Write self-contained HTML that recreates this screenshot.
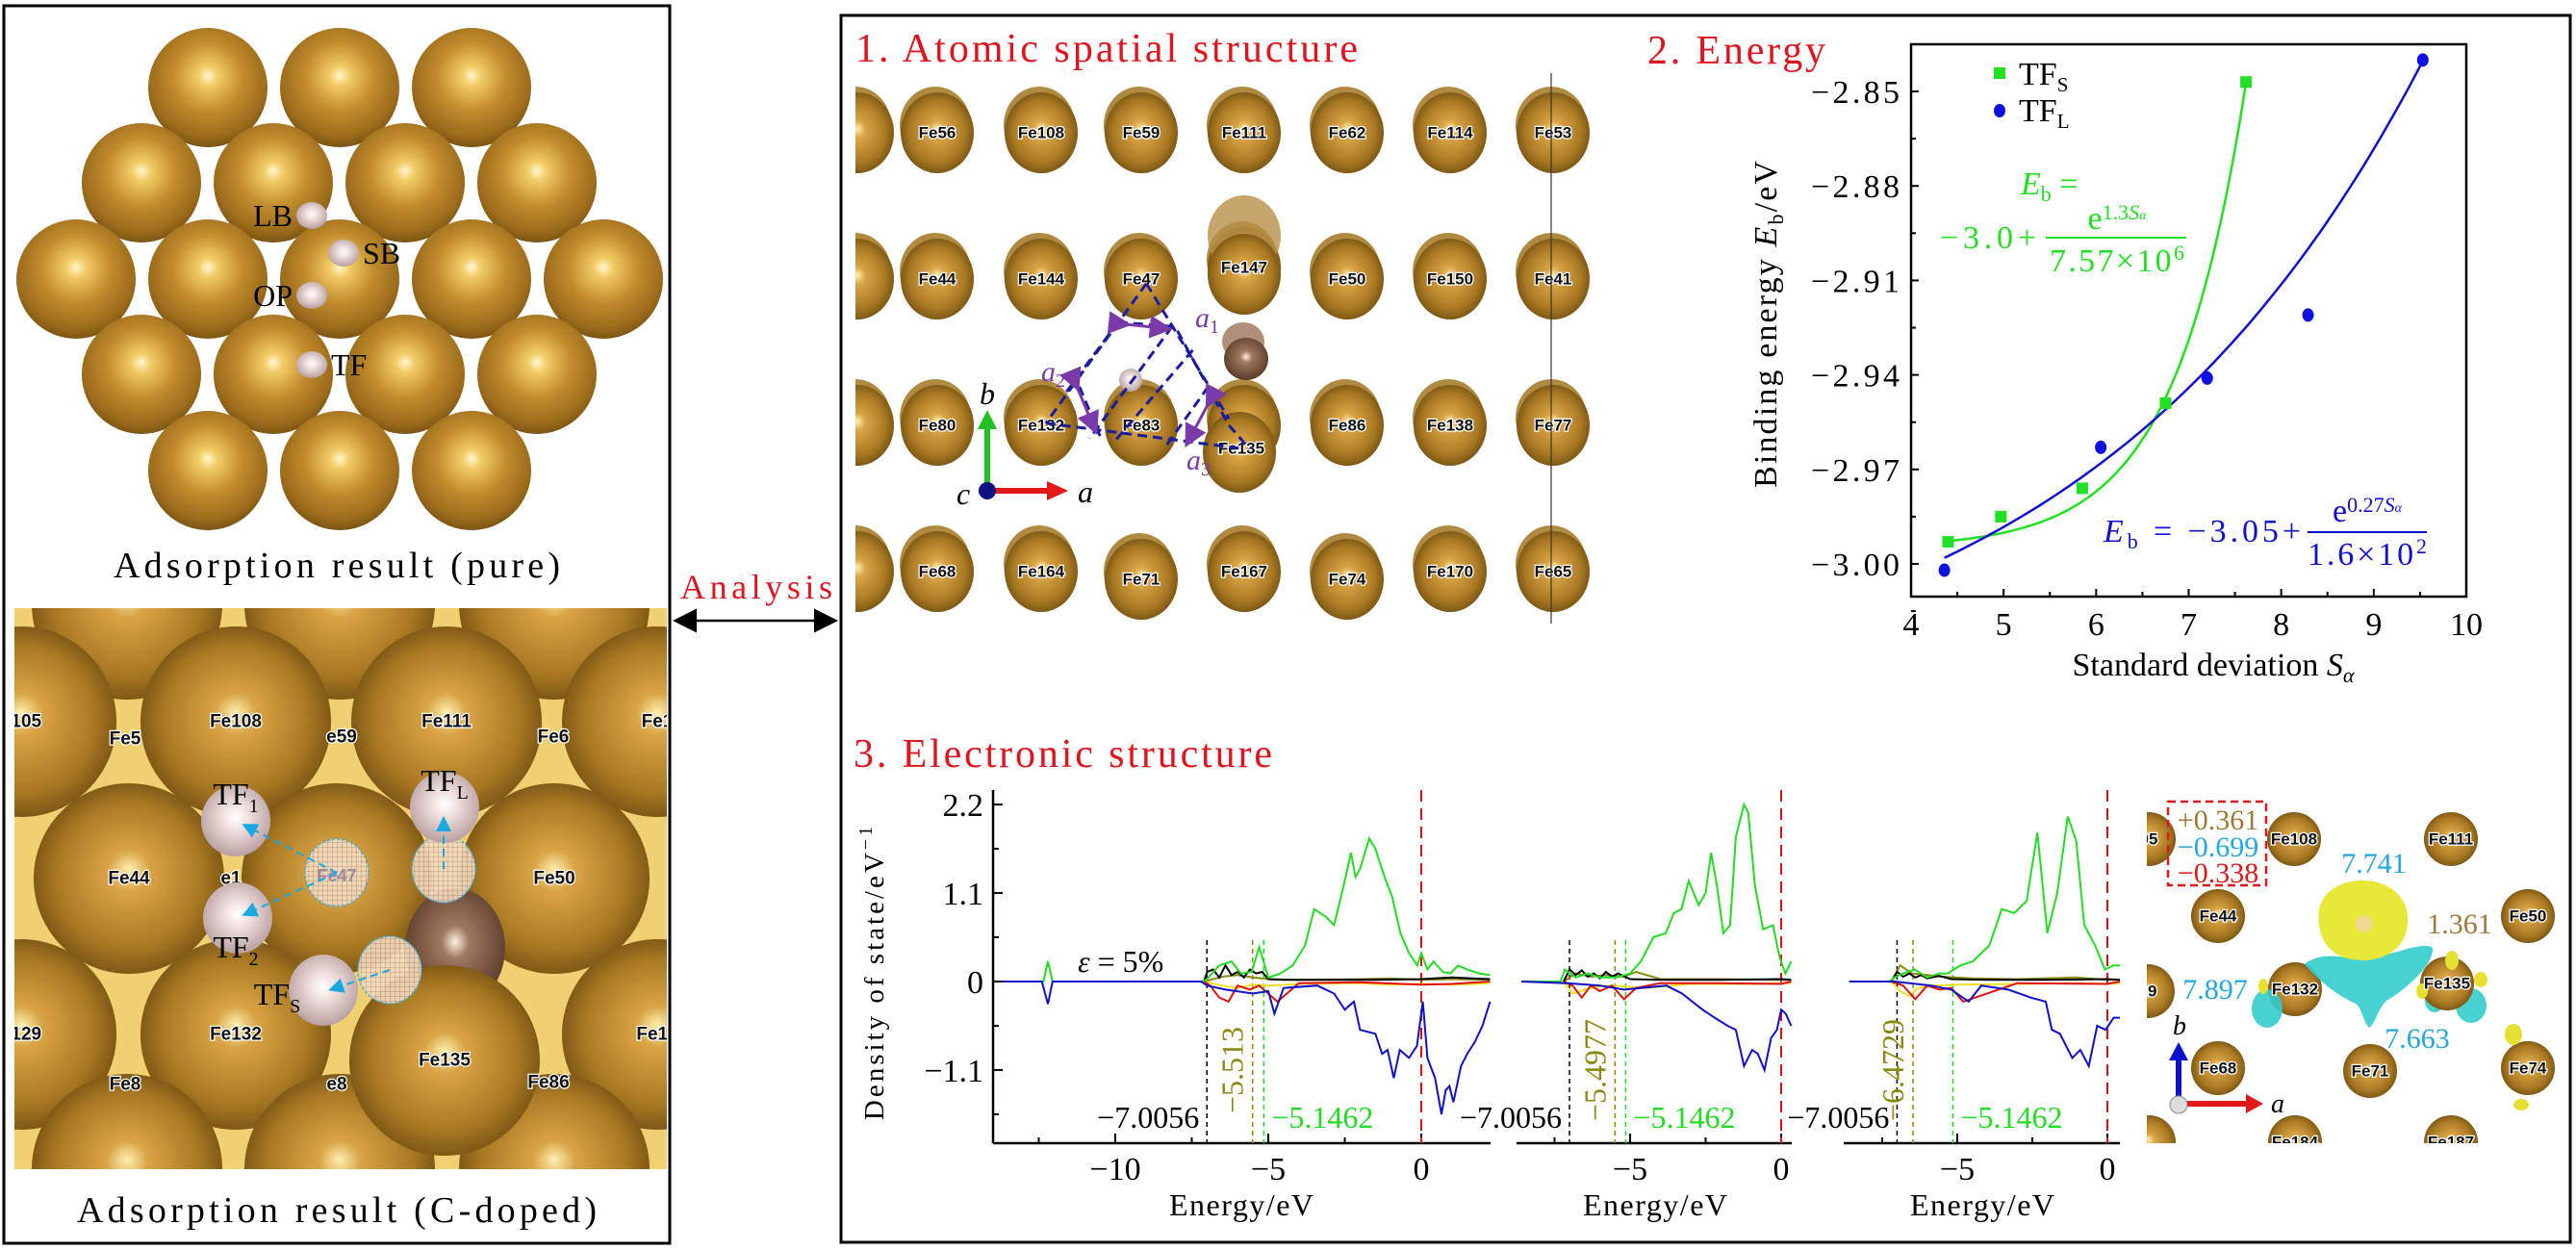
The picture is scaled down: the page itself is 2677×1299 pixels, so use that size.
<!DOCTYPE html>
<html><head><meta charset="utf-8">
<style>
html,body{margin:0;padding:0;background:#fff;}
svg{display:block;font-family:"Liberation Serif",serif;}
.lbl{font-family:"Liberation Sans",sans-serif;font-weight:bold;fill:#111;stroke:#fff;stroke-width:2.5px;paint-order:stroke;text-anchor:middle;dominant-baseline:central;}
</style></head>
<body>
<svg id="fig" width="2677" height="1299" viewBox="0 0 2677 1299" xmlns="http://www.w3.org/2000/svg">
<defs>
<radialGradient id="gold" cx="50%" cy="42%" r="58%" fx="50%" fy="40%">
<stop offset="0" stop-color="#fff8d0"/><stop offset="0.14" stop-color="#f2cc66"/><stop offset="0.5" stop-color="#c28c2c"/><stop offset="0.85" stop-color="#9c6c1c"/><stop offset="1" stop-color="#7c5412"/></radialGradient>
<radialGradient id="gold2" cx="50%" cy="50%" r="55%" fx="50%" fy="45%">
<stop offset="0" stop-color="#ffefb0"/><stop offset="0.2" stop-color="#d9a444"/><stop offset="0.7" stop-color="#a87822"/><stop offset="1" stop-color="#6e4c10"/></radialGradient>
<radialGradient id="pinkg" cx="50%" cy="45%" r="55%"><stop offset="0" stop-color="#ffffff"/><stop offset="0.3" stop-color="#f2e4e2"/><stop offset="1" stop-color="#b8a0a0"/></radialGradient>
<radialGradient id="brown" cx="50%" cy="45%" r="55%"><stop offset="0" stop-color="#fff0e0"/><stop offset="0.25" stop-color="#a07860"/><stop offset="1" stop-color="#5a3c28"/></radialGradient>
<pattern id="hatch" width="5" height="5" patternUnits="userSpaceOnUse"><rect width="5" height="5" fill="#f2dcc0"/><path d="M0 0H5M0 0V5" stroke="#b08068" stroke-width="0.8"/></pattern>
<clipPath id="clipPure"><rect x="8" y="12" width="686" height="540"/></clipPath>
<clipPath id="clipDoped"><rect x="15" y="632" width="678" height="583"/></clipPath>
<clipPath id="clipStruct"><rect x="889" y="70" width="780" height="590"/></clipPath>
<clipPath id="clipCharge"><rect x="2231" y="811" width="438" height="377"/></clipPath>
<marker id="cyanArr" markerWidth="8" markerHeight="8" refX="6" refY="4" orient="auto"><path d="M0,0 L8,4 L0,8 Z" fill="#1aa8e0"/></marker>
<marker id="purpArr" markerWidth="8" markerHeight="8" refX="6" refY="4" orient="auto"><path d="M0,0 L8,4 L0,8 Z" fill="#7a3aa8"/></marker>
<marker id="blkArr" markerWidth="10" markerHeight="10" refX="8" refY="5" orient="auto"><path d="M0,0 L10,5 L0,10 Z" fill="#000"/></marker>
<marker id="blkArrS" markerWidth="10" markerHeight="10" refX="2" refY="5" orient="auto"><path d="M10,0 L0,5 L10,10 Z" fill="#000"/></marker>
</defs>

<rect x="4" y="6" width="692" height="1286" fill="none" stroke="#000" stroke-width="3"/>
<rect x="874" y="16" width="1797" height="1275" fill="none" stroke="#000" stroke-width="3"/>

<g id="pure" clip-path="url(#clipPure)"></g>
<text x="350" y="600" font-size="38" text-anchor="middle" textLength="464">Adsorption result (pure)</text>
<rect x="15" y="632" width="678" height="583" fill="#f0d070"/>
<g id="doped" clip-path="url(#clipDoped)"></g>
<text x="350" y="1270" font-size="38" text-anchor="middle" textLength="540">Adsorption result (C-doped)</text>

<line x1="704" y1="645" x2="866" y2="645" stroke="#000" stroke-width="2.5" marker-end="url(#blkArr)" marker-start="url(#blkArrS)"/>
<text x="786" y="622" font-size="36" fill="#e0141e" text-anchor="middle" textLength="158">Analysis</text>

<text x="889" y="64" font-size="42" fill="#e0141e" textLength="522">1. Atomic spatial structure</text>
<text x="1712" y="66" font-size="42" fill="#e0141e" textLength="185">2. Energy</text>
<text x="887" y="797" font-size="42" fill="#e0141e" textLength="435">3. Electronic structure</text>

<g id="struct" clip-path="url(#clipStruct)"></g>
<g id="energy"></g>
<g id="dos"></g>
<g id="charge" clip-path="url(#clipCharge)"></g>
<g id="chargeTxt"></g>
</svg>

<script>
// ===== Energy chart data =====
const sdTFS = [4.40, 4.97, 5.85, 6.75, 7.62];
const ebTFS = [-2.993, -2.985, -2.976, -2.949, -2.847];
const sdTFL = [4.36, 6.05, 7.20, 8.29, 9.53];
const ebTFL = [-3.002, -2.963, -2.941, -2.921, -2.840];
const fitTFS = [-2.995, 7.38e-6, 1.3];
const fitTFL = [-3.05, 0.016, 0.27];
const energyXTicks = [4, 5, 6, 7, 8, 9, 10];
const energyYTicks = [-2.85, -2.88, -2.91, -2.94, -2.97, -3.00];

// ===== DOS data (three strain panels) =====
const dosYTicks = [2.2, 1.1, 0, -1.1];
const p1XTicks = [-10, -5, 0];
const p2XTicks = [-5, 0];
const p3XTicks = [-5, 0];
const p1GreenE = [-14, -12.5, -12.35, -12.2, -12.05, -7.2, -7.03, -6.6, -6.2, -5.9, -5.54, -5.3, -5.0, -4.6, -4.2, -3.8, -3.5, -3.1, -2.85, -2.5, -2.3, -2.15, -2.0, -1.7, -1.5, -1.2, -0.95, -0.68, -0.4, -0.13, 0, 0.2, 0.4, 0.7, 0.95, 1.2, 1.5, 1.9, 2.25];
const p1GreenV = [0, 0, 0, 0.25, 0, 0, 0.02, 0.2, 0.25, 0.1, 0.12, 0.43, 0.05, 0.1, 0.2, 0.45, 0.9, 0.8, 0.7, 1.25, 1.6, 1.3, 1.4, 1.78, 1.65, 1.3, 1.05, 0.6, 0.35, 0.2, 0.35, 0.15, 0.25, 0.12, 0.1, 0.2, 0.15, 0.1, 0.08];
const p1BlueE = [-14, -12.4, -12.2, -12.05, -7.2, -7.0, -6.4, -5.5, -5.0, -4.8, -4.5, -3.4, -2.85, -2.5, -2.2, -2.0, -1.5, -1.28, -1.1, -0.9, -0.7, -0.4, -0.14, 0.05, 0.2, 0.45, 0.66, 0.8, 0.92, 1.05, 1.3, 1.5, 1.75, 2.0, 2.25];
const p1BlueV = [0, 0, -0.28, 0, 0, -0.05, -0.1, -0.15, -0.12, -0.4, -0.08, -0.05, -0.15, -0.35, -0.25, -0.6, -0.65, -0.9, -0.85, -1.2, -0.85, -0.95, -0.8, -0.25, -0.95, -1.2, -1.65, -1.35, -1.3, -1.5, -1.05, -0.9, -0.75, -0.55, -0.25];
const p1BlackE = [-7.1, -7.0, -6.8, -6.6, -6.4, -6.2, -6.0, -5.8, -5.6, -5.4, -5.2, -5.0, -4.5, -3, -1.5, 0, 1, 2.25];
const p1BlackV = [0, 0.12, 0.15, 0.05, 0.2, 0.08, 0.12, 0.05, 0.15, 0.1, 0.12, 0.03, 0.02, 0.02, 0.02, 0.03, 0.05, 0.03];
const p1RedE = [-7.1, -6.9, -6.6, -6.3, -6.0, -5.6, -5.3, -5.0, -4.7, -4.0, -2, 0, 1, 2.25];
const p1RedV = [0, -0.05, -0.2, -0.25, -0.05, -0.1, -0.05, -0.15, -0.25, -0.02, -0.01, -0.04, -0.03, 0];
const p1OliveE = [-7.1, -6.5, -6.0, -5.5, -5.0, -4, -2, -1, 0, 1, 2.25];
const p1OliveV = [0, 0.06, 0.08, 0.05, 0.03, 0.02, 0.03, 0.04, 0.02, 0.03, 0.02];
const p1YellowE = [-7.1, -6.5, -6.0, -5.5, -5.0, -4, -2, -1, 0, 1, 2.25];
const p1YellowV = [0, -0.05, -0.08, -0.04, -0.05, -0.03, -0.02, -0.04, -0.03, -0.04, -0.02];

const p2GreenE = [-8.6, -7.3, -7.16, -6.8, -6.4, -6.0, -5.46, -5.0, -4.64, -4.23, -3.82, -3.55, -3.3, -3.06, -2.73, -2.5, -2.32, -2.13, -1.91, -1.69, -1.5, -1.23, -1.09, -0.87, -0.6, -0.27, -0.05, 0.14, 0.33];
const p2GreenV = [0, 0, 0.15, 0.05, 0.1, 0.05, 0.05, 0.1, 0.25, 0.55, 0.6, 0.85, 0.9, 1.25, 0.95, 1.1, 1.6, 1.2, 0.6, 0.7, 1.8, 2.2, 2.1, 1.2, 0.65, 0.7, 0.3, 0.1, 0.25];
const p2BlueE = [-8.6, -7.1, -6.0, -5.2, -3.8, -3.28, -2.6, -2.2, -1.77, -1.5, -1.23, -0.96, -0.77, -0.55, -0.33, -0.14, 0, 0.15, 0.33];
const p2BlueV = [0, -0.02, -0.05, -0.1, -0.05, -0.15, -0.35, -0.45, -0.55, -0.6, -1.05, -0.85, -0.9, -1.1, -0.7, -0.6, -0.35, -0.4, -0.55];
const p2BlackE = [-7.2, -7.0, -6.8, -6.6, -6.4, -6.2, -6.0, -5.8, -5.6, -5.4, -5.0, -4, -2, 0, 0.33];
const p2BlackV = [0, 0.15, 0.08, 0.14, 0.06, 0.1, 0.04, 0.12, 0.06, 0.1, 0.03, 0.02, 0.02, 0.03, 0.02];
const p2RedE = [-7.2, -6.9, -6.6, -6.3, -6.0, -5.6, -5.2, -4.8, -4.0, -2, 0, 0.33];
const p2RedV = [0, -0.05, -0.2, -0.05, -0.12, -0.05, -0.22, -0.08, -0.02, -0.02, -0.03, 0];
const p2OliveE = [-7.2, -6.8, -6.3, -5.8, -5.2, -4.8, -4, -2, 0, 0.33];
const p2OliveV = [0, 0.1, 0.06, 0.08, 0.06, 0.12, 0.03, 0.03, 0.02, 0.02];
const p2YellowE = [-7.2, -6.9, -6.5, -6.0, -5.5, -4.5, -3, -1, 0, 0.33];
const p2YellowV = [0, -0.15, -0.1, -0.06, -0.05, -0.08, -0.03, -0.03, -0.02, -0.02];

const p3GreenE = [-8.6, -7.25, -7.1, -6.8, -6.42, -6.0, -5.6, -5.31, -4.9, -4.48, -3.93, -3.52, -3.1, -2.69, -2.33, -2.0, -1.67, -1.32, -1.04, -0.77, -0.41, -0.08, 0.2, 0.42];
const p3GreenV = [0, 0, 0.05, 0.1, 0.15, 0.05, 0.1, 0.1, 0.2, 0.25, 0.45, 0.9, 0.85, 1.0, 1.85, 0.6, 1.1, 2.05, 1.75, 0.7, 0.45, 0.15, 0.2, 0.2];
const p3BlueE = [-8.6, -7.1, -5.86, -5.2, -4.62, -4.2, -3.3, -2.55, -2.05, -1.85, -1.58, -1.17, -0.9, -0.62, -0.34, -0.06, 0.21, 0.42];
const p3BlueV = [0, 0, -0.05, -0.1, -0.25, -0.05, -0.1, -0.2, -0.25, -0.6, -0.65, -0.95, -0.85, -1.05, -0.55, -0.6, -0.45, -0.45];
const p3BlackE = [-7.2, -7.0, -6.8, -6.6, -6.4, -6.2, -6.0, -5.6, -5.2, -4, -2, 0, 0.42];
const p3BlackV = [0, 0.12, 0.06, 0.1, 0.05, 0.08, 0.04, 0.07, 0.03, 0.02, 0.02, 0.03, 0.02];
const p3RedE = [-7.2, -6.8, -6.4, -6.0, -5.6, -5.2, -4.8, -3, 0, 0.42];
const p3RedV = [0, -0.05, -0.22, -0.05, -0.1, -0.08, -0.25, -0.02, -0.03, 0];
const p3OliveE = [-7.2, -6.9, -6.5, -6.0, -5.5, -4.5, -3, -1, 0, 0.42];
const p3OliveV = [0, 0.2, 0.1, 0.08, 0.06, 0.04, 0.03, 0.05, 0.02, 0.02];
const p3YellowE = [-7.2, -6.9, -6.6, -6.3, -5.8, -5, -3, -1, 0, 0.42];
const p3YellowV = [0, -0.12, -0.18, -0.08, -0.05, -0.04, -0.03, -0.02, -0.03, -0.02];
const dosMarkers1 = [-7.0056, -5.513, -5.1462];
const dosMarkers2 = [-7.0056, -5.4977, -5.1462];
const dosMarkers3 = [-7.0056, -6.4729, -5.1462];
const dosMarkerText1 = ["\u22127.0056", "\u22125.513", "\u22125.1462"];
const dosMarkerText2 = ["\u22127.0056", "\u22125.4977", "\u22125.1462"];
const dosMarkerText3 = ["\u22127.0056", "\u22126.4729", "\u22125.1462"];

const NS = "http://www.w3.org/2000/svg";
function mk(tag, a, parent) {
  const e = document.createElementNS(NS, tag);
  for (const k in a) e.setAttribute(k, a[k]);
  parent.appendChild(e);
  return e;
}
function fmt(v) { return (v < 0 ? "\u2212" : "") + Math.abs(v).toFixed(2); }

// ===== Pure image =====
(function () {
  const g = document.getElementById('pure');
  const rows = [[91, [216, 353, 490]], [190, [147, 284, 421, 558]], [290, [79, 216, 353, 490, 627]], [389, [147, 284, 421, 558]], [489, [216, 353, 490]]];
  rows.forEach(r => r[1].forEach(x => {
    const c = mk('ellipse', { cx: x, cy: r[0], rx: 62, ry: 62, fill: 'url(#gold)' }, g);
    
    
  }));
  const hs = [[324, 224, 'LB', 'end'], [357, 263, 'SB', 'start'], [324, 307, 'OP', 'end'], [324, 379, 'TF', 'start']];
  hs.forEach(h => {
    const c = mk('ellipse', { cx: h[0], cy: h[1], rx: 16, ry: 14, fill: 'url(#pinkg)' }, g);
    
    
    const t = mk('text', { x: h[3] === 'end' ? h[0] - 20 : h[0] + 20, y: h[1] + 11, 'font-size': 32, 'text-anchor': h[3] }, g);
    t.textContent = h[2];
    
    
  });
})();

// ===== Doped image =====
(function () {
  const g = document.getElementById('doped');
  const R = 99;
  const sph = [[132, 628, ''], [353, 628, ''], [576, 628, ''],
    [22, 750, 'e105'], [245, 750, 'Fe108'], [464, 750, 'Fe111'], [683, 750, 'Fe1'],
    [-85, 913, 'e14'], [134, 913, 'Fe44'], [350, 913, ''], [576, 913, 'Fe50'], [795, 913, 'e15'],
    [22, 1075, 'e129'], [245, 1075, 'Fe132'], [683, 1075, 'Fe13'],
    [132, 1215, ''], [353, 1215, ''], [576, 1215, '']];
  sph.forEach(s => {
    const c = mk('circle', { cx: s[0], cy: s[1], r: R, fill: 'url(#gold2)' }, g);
    
    
  });
  const bc = mk('ellipse', { cx: 473, cy: 985, rx: 52, ry: 62, fill: 'url(#brown)' }, g);
  
  
  const f135 = mk('circle', { cx: 462, cy: 1102, r: R, fill: 'url(#gold2)' }, g);
  
  
  const labs = sph.filter(s => s[2]).concat([[462, 1102, 'Fe135'], [130, 768, 'Fe5'], [355, 766, 'e59'], [575, 766, 'Fe6'], [130, 1127, 'Fe8'], [350, 1127, 'e8'], [570, 1125, 'Fe86'], [240, 913, 'e1']]);
  labs.forEach(s => {
    const t = mk('text', { x: s[0], y: s[1], class: 'lbl', 'font-size': 19 }, g);
    t.textContent = s[2];
    
    
  });
  [[350, 907], [461, 903], [405, 1008]].forEach(h => {
    const c = mk('ellipse', { cx: h[0], cy: h[1], rx: 33, ry: 35, fill: 'url(#hatch)', stroke: '#38b0e0', 'stroke-width': 1.5, 'stroke-dasharray': '3 2', opacity: 0.9 }, g);
    
    
  });
  const fe47 = mk('text', { x: 350, y: 910, 'font-size': 18, 'font-family': 'Liberation Sans', 'font-weight': 'bold', fill: '#9a8aa0', 'text-anchor': 'middle', 'dominant-baseline': 'central' }, g);
  fe47.textContent = 'Fe47';
  
  
  const hA = [[245, 853, 'TF', '1', 245, 836], [247, 954, 'TF', '2', 245, 995], [336, 1029, 'TF', 'S', 288, 1044], [462, 839, 'TF', 'L', 462, 822]];
  hA.forEach(h => {
    const c = mk('ellipse', { cx: h[0], cy: h[1], rx: 36, ry: 37, fill: 'url(#pinkg)' }, g);
    
    
  });
  [[350, 907, 255, 858], [350, 907, 255, 950], [405, 1008, 345, 1028], [461, 903, 461, 852]].forEach(a => {
    const l = mk('line', { x1: a[0], y1: a[1], x2: a[2], y2: a[3], stroke: '#1aa8e0', 'stroke-width': 2, 'stroke-dasharray': '8 5', 'marker-end': 'url(#cyanArr)' }, g);
    
    
  });
  hA.forEach(h => {
    const t = mk('text', { x: h[4], y: h[5], 'font-size': 32, 'text-anchor': 'middle' }, g);
    t.textContent = h[2];
    const s = mk('tspan', { 'font-size': 20, dy: 8 }, t);
    s.textContent = h[3];
    
    
  });
})();

// ===== Atomic spatial structure =====
(function () {
  const g = document.getElementById('struct');
  const cols = [891, 974, 1082, 1186, 1293, 1400, 1507, 1614];
  const rows = [138, 290, 442, 594];
  const names = [['', 'Fe56', 'Fe108', 'Fe59', 'Fe111', 'Fe62', 'Fe114', 'Fe53'],
    ['', 'Fe44', 'Fe144', 'Fe47', 'Fe147', 'Fe50', 'Fe150', 'Fe41'],
    ['', 'Fe80', 'Fe132', 'Fe83', '', 'Fe86', 'Fe138', 'Fe77'],
    ['', 'Fe68', 'Fe164', 'Fe71', 'Fe167', 'Fe74', 'Fe170', 'Fe65']];
  rows.forEach((y, ri) => cols.forEach((x, ci) => {
    let yy = y;
    if (ri === 3 && (ci === 3 || ci === 5)) yy = y + 8;
    if (ri === 1 && ci === 4) yy = y - 12;
    const gh = mk('ellipse', { cx: x - 2, cy: yy - 8, rx: 37, ry: 40, fill: '#b08a40' }, g);
    
    
    const c = mk('ellipse', { cx: x, cy: yy, rx: 38, ry: 42, fill: 'url(#gold2)' }, g);
    
    
    if (names[ri][ci]) {
      const t = mk('text', { x: x, y: yy, class: 'lbl', 'font-size': 17 }, g);
      t.textContent = names[ri][ci];
      
      
    }
  }));
  const gh2 = mk('ellipse', { cx: 1293, cy: 245, rx: 38, ry: 42, fill: '#b89048', opacity: 0.8 }, g);
  
  
  const f147 = mk('ellipse', { cx: 1293, cy: 285, rx: 38, ry: 42, fill: 'url(#gold2)' }, g);
  
  
  const t147 = mk('text', { x: 1293, y: 278, class: 'lbl', 'font-size': 17 }, g);
  t147.textContent = 'Fe147';
  
  
  const f135 = mk('ellipse', { cx: 1288, cy: 470, rx: 38, ry: 42, fill: 'url(#gold2)' }, g);
  
  
  const t135 = mk('text', { x: 1290, y: 466, class: 'lbl', 'font-size': 17 }, g);
  t135.textContent = 'Fe135';
  
  
  const cg = mk('ellipse', { cx: 1292, cy: 355, rx: 22, ry: 20, fill: '#b09078' }, g);
  
  
  const cc = mk('ellipse', { cx: 1295, cy: 373, rx: 23, ry: 22, fill: 'url(#brown)' }, g);
  
  
  const h = mk('circle', { cx: 1175, cy: 395, r: 12, fill: 'url(#pinkg)' }, g);
  
  
  const P = (x, y) => [870 + x / 1.867, y / 2.24];
  const dl = [[600, 660, 405, 985], [600, 660, 760, 975], [405, 985, 790, 1045], [545, 750, 440, 920], [650, 760, 490, 1020], [690, 815, 540, 1025],
    [720, 900, 640, 1035], [470, 900, 510, 1015], [660, 770, 760, 990], [760, 990, 800, 1045], [545, 750, 650, 760]];
  dl.forEach(d => {
    const a = P(d[0], d[1]), b = P(d[2], d[3]);
    const l = mk('line', { x1: a[0], y1: a[1], x2: b[0], y2: b[1], stroke: '#1c1ca0', 'stroke-width': 3, 'stroke-dasharray': '10 6' }, g);
    
    
  });
  [[[560, 755], [640, 765]], [[465, 900], [500, 1000]], [[720, 940], [680, 1030]]].forEach(ar => {
    const a = P(ar[0][0], ar[0][1]), b = P(ar[1][0], ar[1][1]);
    const l = mk('line', { x1: a[0], y1: a[1], x2: b[0], y2: b[1], stroke: '#7a3aa8', 'stroke-width': 3, 'marker-end': 'url(#purpArr)', 'marker-start': 'url(#purpArr)' }, g);
    
    
  });
  [['1', 1242, 340], ['2', 1082, 396], ['3', 1233, 488]].forEach(s => {
    const t = mk('text', { x: s[1], y: s[2], 'font-size': 30, 'font-style': 'italic', fill: '#7a3aa8' }, g);
    t.textContent = 'a';
    const sb = mk('tspan', { 'font-size': 20, dy: 6, 'font-style': 'normal' }, t);
    sb.textContent = s[0];
    
    
  });
  const vl = mk('line', { x1: 1612, y1: 76, x2: 1612, y2: 648, stroke: '#333', 'stroke-width': 1.2 }, g);
  
  
  const ay = mk('line', { x1: 1026, y1: 508, x2: 1026, y2: 440, stroke: '#22c022', 'stroke-width': 6 }, g);
  
  
  const ayh = mk('path', { d: 'M1016,446 L1026,426 L1036,446 Z', fill: '#22c022' }, g);
  
  
  const ax = mk('line', { x1: 1028, y1: 510, x2: 1092, y2: 510, stroke: '#e01818', 'stroke-width': 6 }, g);
  
  
  const axh = mk('path', { d: 'M1088,500 L1110,510 L1088,520 Z', fill: '#e01818' }, g);
  
  
  const ao = mk('circle', { cx: 1026, cy: 510, r: 9, fill: '#101080' }, g);
  
  
  [['b', 1018, 420], ['a', 1120, 522], ['c', 994, 524]].forEach(s => {
    const t = mk('text', { x: s[1], y: s[2], 'font-size': 32, 'font-style': 'italic' }, g);
    t.textContent = s[0];
    
    
  });
})();

// ===== Energy chart =====
(function () {
  const g = document.getElementById('energy');
  const X0 = 1986, X1 = 2563, Y0 = 46, Y1 = 620;
  const sx = v => X0 + (v - 4) * (X1 - X0) / 6;
  const sy = v => 586 - (v + 3.0) * 3273;
  const fr = mk('rect', { x: X0, y: Y0, width: X1 - X0, height: Y1 - Y0, fill: 'none', stroke: '#000', 'stroke-width': 2.5 }, g);
  
  
  energyXTicks.forEach((v, i) => {
    const tk = mk('line', { x1: sx(v), y1: Y1, x2: sx(v), y2: Y1 - 8, stroke: '#000', 'stroke-width': 2 }, g);
    
    
    if (i < energyXTicks.length - 1) {
      const m = mk('line', { x1: sx(v + 0.5), y1: Y1, x2: sx(v + 0.5), y2: Y1 - 5, stroke: '#000', 'stroke-width': 2 }, g);
      
      
    }
    const t = mk('text', { x: sx(v), y: 660, 'font-size': 34, 'text-anchor': 'middle' }, g);
    t.textContent = v;
    
    
  });
  energyYTicks.forEach(v => {
    const tk = mk('line', { x1: X0, y1: sy(v), x2: X0 + 8, y2: sy(v), stroke: '#000', 'stroke-width': 2 }, g);
    
    
    const m = mk('line', { x1: X0, y1: sy(v - 0.015), x2: X0 + 5, y2: sy(v - 0.015), stroke: '#000', 'stroke-width': 2 }, g);
    
    
    const t = mk('text', { x: 1882, y: sy(v) + 12, 'font-size': 34, textLength: 92 }, g);
    t.textContent = fmt(v);
    
    
  });
  const yt = mk('text', { x: 0, y: 0, 'font-size': 34, 'text-anchor': 'middle', textLength: 340, transform: 'translate(1846,337) rotate(-90)' }, g);
  yt.innerHTML = 'Binding energy <tspan font-style="italic">E</tspan><tspan font-size="22" dy="7">b</tspan><tspan dy="-7">/eV</tspan>';
  
  
  const xt = mk('text', { x: 2300, y: 702, 'font-size': 34, 'text-anchor': 'middle' }, g);
  xt.innerHTML = 'Standard deviation <tspan font-style="italic">S</tspan><tspan font-size="22" dy="7" font-style="italic">α</tspan>';
  
  
  function curve(p, a, b, col, name) {
    let d = '';
    for (let i = 0; i <= 80; i++) {
      const v = a + (b - a) * i / 80;
      const y = p[0] + p[1] * Math.exp(p[2] * v);
      d += (i ? 'L' : 'M') + sx(v).toFixed(1) + ',' + sy(y).toFixed(1);
    }
    const c = mk('path', { d: d, fill: 'none', stroke: col, 'stroke-width': 2.5 }, g);
    
    
  }
  curve(fitTFS, sdTFS[0], sdTFS[sdTFS.length - 1], '#22e022', 'fit-curve-tfs');
  curve(fitTFL, sdTFL[0], sdTFL[sdTFL.length - 1], '#1010d0', 'fit-curve-tfl');
  sdTFS.forEach((v, i) => {
    const r = mk('rect', { x: sx(v) - 6, y: sy(ebTFS[i]) - 6, width: 12, height: 12, fill: '#22e022' }, g);
    
    
  });
  sdTFL.forEach((v, i) => {
    const c = mk('ellipse', { cx: sx(v), cy: sy(ebTFL[i]), rx: 6, ry: 7, fill: '#1010e0' }, g);
    
    
  });
  const l1 = mk('rect', { x: 2072, y: 70, width: 12, height: 12, fill: '#22e022' }, g);
  
  
  const l2 = mk('ellipse', { cx: 2078, cy: 115, rx: 6, ry: 7, fill: '#1010e0' }, g);
  
  
  [['S', 88], ['L', 126]].forEach(s => {
    const t = mk('text', { x: 2098, y: s[1], 'font-size': 34 }, g);
    t.innerHTML = 'TF<tspan font-size="21" dy="7">' + s[0] + '</tspan>';
    
    
  });
  const gf = mk('g', { fill: '#22e022', 'font-size': 34 }, g);
  
  
  gf.innerHTML = '<text x="2100" y="202"><tspan font-style="italic">E</tspan><tspan font-size="22" dy="7">b</tspan><tspan dy="-7"> =</tspan></text>' +
    '<text x="2016" y="258" textLength="100">\u22123.0+</text>' +
    '<text x="2200" y="238" text-anchor="middle">e<tspan font-size="22" dy="-10">1.3<tspan font-style="italic">S</tspan><tspan font-size="14" font-style="italic">α</tspan></tspan></text>' +
    '<line x1="2126" y1="247" x2="2272" y2="247" stroke="#22e022" stroke-width="2"/>' +
    '<text x="2200" y="282" text-anchor="middle" textLength="140">7.57×10<tspan font-size="22" dy="-12">6</tspan></text>';
  const bf = mk('g', { fill: '#1010d0', 'font-size': 34 }, g);
  
  
  bf.innerHTML = '<text x="2186" y="563" textLength="205"><tspan font-style="italic">E</tspan><tspan font-size="22" dy="7">b</tspan><tspan dy="-7"> = \u22123.05+</tspan></text>' +
    '<text x="2460" y="542" text-anchor="middle">e<tspan font-size="22" dy="-10">0.27<tspan font-style="italic">S</tspan><tspan font-size="14" font-style="italic">α</tspan></tspan></text>' +
    '<line x1="2398" y1="553" x2="2522" y2="553" stroke="#1010d0" stroke-width="2"/>' +
    '<text x="2460" y="587" text-anchor="middle" textLength="124">1.6×10<tspan font-size="22" dy="-12">2</tspan></text>';
})();

// ===== DOS chart =====
(function () {
  const g = document.getElementById('dos');
  const YB = 1188, YT = 821;
  const sy = v => 1020 - v * 83.6;
  const panels = [
    { x0: 1477, k: 31.8, L: 1032, R: 1549, ticks: p1XTicks, minor: [-12.5, -7.5, -2.5],
      ser: [[p1OliveE, p1OliveV, '#8a8a10'], [p1YellowE, p1YellowV, '#f0e020'], [p1RedE, p1RedV, '#e01010'], [p1BlackE, p1BlackV, '#000'], [p1GreenE, p1GreenV, '#22dd22'], [p1BlueE, p1BlueV, '#1010c8']],
      mk: dosMarkers1, mt: dosMarkerText1, lab: 1290 },
    { x0: 1851, k: 31.4, L: 1576, R: 1862, ticks: p2XTicks, minor: [-7.5, -2.5],
      ser: [[p2OliveE, p2OliveV, '#8a8a10'], [p2YellowE, p2YellowV, '#f0e020'], [p2RedE, p2RedV, '#e01010'], [p2BlackE, p2BlackV, '#000'], [p2GreenE, p2GreenV, '#22dd22'], [p2BlueE, p2BlueV, '#1010c8']],
      mk: dosMarkers2, mt: dosMarkerText2, lab: 1720 },
    { x0: 2190, k: 31.2, L: 1916, R: 2203, ticks: p3XTicks, minor: [-7.5, -2.5],
      ser: [[p3OliveE, p3OliveV, '#8a8a10'], [p3YellowE, p3YellowV, '#f0e020'], [p3RedE, p3RedV, '#e01010'], [p3BlackE, p3BlackV, '#000'], [p3GreenE, p3GreenV, '#22dd22'], [p3BlueE, p3BlueV, '#1010c8']],
      mk: dosMarkers3, mt: dosMarkerText3, lab: 2060 }];
  panels.forEach((p, pi) => {
    const sx = e => p.x0 + e * p.k;
    const ax = mk('line', { x1: p.L, y1: YB, x2: p.R, y2: YB, stroke: '#000', 'stroke-width': 2.5 }, g);
    
    
    p.ticks.forEach(v => {
      const t = mk('line', { x1: sx(v), y1: YB, x2: sx(v), y2: YB - 10, stroke: '#000', 'stroke-width': 2 }, g);
      
      
      const tl = mk('text', { x: sx(v), y: 1226, 'font-size': 34, 'text-anchor': 'middle' }, g);
      tl.textContent = v < 0 ? '\u2212' + Math.abs(v) : v;
      
      
    });
    p.minor.forEach(v => {
      const t = mk('line', { x1: sx(v), y1: YB, x2: sx(v), y2: YB - 6, stroke: '#000', 'stroke-width': 2 }, g);
      
      
    });
    const xl = mk('text', { x: p.lab, y: 1263, 'font-size': 32, 'text-anchor': 'middle', textLength: 150 }, g);
    xl.textContent = 'Energy/eV';
    
    
    const cols = ['#000', '#8a8a10', '#22dd22'];
    p.mk.forEach((e, i) => {
      const l = mk('line', { x1: sx(e), y1: 977, x2: sx(e), y2: YB, stroke: cols[i], 'stroke-width': 1.5, 'stroke-dasharray': '5 4' }, g);
      
      
    });
    const fl = mk('line', { x1: sx(0), y1: YT, x2: sx(0), y2: YB, stroke: '#e01010', 'stroke-width': 2, 'stroke-dasharray': '12 7' }, g);
    
    
    p.ser.forEach(s => {
      let d = '';
      s[0].forEach((e, i) => {
        const x = Math.max(p.L, Math.min(p.R, sx(e)));
        d += (i ? 'L' : 'M') + x.toFixed(1) + ',' + sy(s[1][i]).toFixed(1);
      });
      const path = mk('path', { d: d, fill: 'none', stroke: s[2], 'stroke-width': 2 }, g);
      
      
    });
    const t1 = mk('text', { x: sx(p.mk[0]) - 8, y: 1172, 'font-size': 32, 'text-anchor': 'end' }, g);
    t1.textContent = p.mt[0];
    
    
    const t2 = mk('text', { x: 0, y: 0, 'font-size': 32, fill: '#8a8a10', 'text-anchor': 'middle', transform: 'translate(' + (sx(p.mk[1]) - 10) + ',1112) rotate(-90)' }, g);
    t2.textContent = p.mt[1];
    
    
    const t3 = mk('text', { x: sx(p.mk[2]) + 8, y: 1172, 'font-size': 32, fill: '#22dd22' }, g);
    t3.textContent = p.mt[2];
    
    
  });
  const ya = mk('line', { x1: 1032, y1: YT, x2: 1032, y2: YB, stroke: '#000', 'stroke-width': 2.5 }, g);
  
  
  dosYTicks.forEach(v => {
    const t = mk('line', { x1: 1032, y1: sy(v), x2: 1042, y2: sy(v), stroke: '#000', 'stroke-width': 2 }, g);
    
    
    const m = mk('line', { x1: 1032, y1: sy(v - 0.55), x2: 1038, y2: sy(v - 0.55), stroke: '#000', 'stroke-width': 2 }, g);
    
    
    const tl = mk('text', { x: 1022, y: sy(v) + 12, 'font-size': 34, 'text-anchor': 'end' }, g);
    tl.textContent = v < 0 ? '\u2212' + Math.abs(v) : v;
    
    
  });
  const yt = mk('text', { x: 0, y: 0, 'font-size': 29, 'text-anchor': 'middle', 'letter-spacing': 3, transform: 'translate(918,1010) rotate(-90)' }, g);
  yt.innerHTML = 'Density of state/eV<tspan font-size="20" dy="-12">\u22121</tspan>';
  
  
  const st = mk('text', { x: 1120, y: 1010, 'font-size': 32 }, g);
  st.innerHTML = '<tspan font-style="italic">ε</tspan> = 5%';
  
  
})();

// ===== Charge density image =====
(function () {
  const g = document.getElementById('charge');
  const S = 28;
  const atoms = [[2233, 872, '05'], [2384, 872, 'Fe108'], [2547, 872, 'Fe111'], [2305, 952, 'Fe44'], [2627, 952, 'Fe50'],
    [2232, 1030, '29'], [2385, 1028, 'Fe132'], [2305, 1110, 'Fe68'], [2463, 1113, 'Fe71'], [2627, 1110, 'Fe74'],
    [2233, 1187, ''], [2385, 1187, 'Fe184'], [2547, 1187, 'Fe187']];
  atoms.forEach(a => {
    const c = mk('circle', { cx: a[0], cy: a[1], r: S, fill: 'url(#gold2)' }, g);
    
    
  });
  const cy = mk('path', { d: 'M2395,1002 C2410,988 2440,995 2460,998 C2490,990 2520,978 2528,985 C2530,1000 2505,1025 2480,1040 C2470,1050 2468,1065 2462,1068 C2455,1060 2455,1048 2448,1043 C2430,1035 2410,1020 2395,1002 Z', fill: '#33cccc', opacity: 0.9 }, g);
  
  
  [[2356, 1048, 16, 20], [2568, 1045, 16, 18], [2530, 1040, 10, 12]].forEach(b => {
    const e = mk('ellipse', { cx: b[0], cy: b[1], rx: b[2], ry: b[3], fill: '#33cccc', opacity: 0.9 }, g);
    
    
  });
  const f135 = mk('circle', { cx: 2543, cy: 1022, r: S, fill: 'url(#gold2)' }, g);
  
  
  [[2548, 998, 7, 10], [2578, 1018, 7, 8], [2517, 1030, 6, 8], [2612, 1075, 9, 11], [2620, 1148, 8, 6], [2352, 1025, 5, 8]].forEach(b => {
    const e = mk('ellipse', { cx: b[0], cy: b[1], rx: b[2], ry: b[3], fill: '#e8e030' }, g);
    
    
  });
  const yb = mk('path', { d: 'M2410,960 C2405,930 2430,915 2455,915 C2485,915 2505,935 2502,960 C2500,985 2480,998 2455,998 C2430,998 2412,985 2410,960 Z', fill: '#e6e628', opacity: 0.92 }, g);
  
  
  const hc = mk('circle', { cx: 2457, cy: 960, r: 9, fill: '#f0d890' }, g);
  
  
  atoms.concat([[2543, 1022, 'Fe135']]).forEach(a => {
    if (!a[2]) return;
    const t = mk('text', { x: a[0], y: a[1], class: 'lbl', 'font-size': 17 }, g);
    t.textContent = a[2];
    
    
  });
  const bx = mk('line', { x1: 2264, y1: 1146, x2: 2264, y2: 1098, stroke: '#1010d0', 'stroke-width': 6 }, g);
  
  
  const bh = mk('path', { d: 'M2254,1102 L2264,1083 L2274,1102 Z', fill: '#1010d0' }, g);
  
  
  const axl = mk('line', { x1: 2266, y1: 1147, x2: 2338, y2: 1147, stroke: '#e01818', 'stroke-width': 6 }, g);
  
  
  const ah = mk('path', { d: 'M2334,1137 L2352,1147 L2334,1157 Z', fill: '#e01818' }, g);
  
  
  const o = mk('circle', { cx: 2264, cy: 1148, r: 9, fill: '#ddd', stroke: '#888' }, g);
  
  
  const gt = document.getElementById('chargeTxt');
  const box = mk('rect', { x: 2253, y: 833, width: 102, height: 87, fill: 'none', stroke: '#e01818', 'stroke-width': 2.5, 'stroke-dasharray': '8 5' }, gt);
  
  
  [['+0.361', 2305, 862, '#a07838'], ['\u22120.699', 2305, 890, '#20a8e0'], ['\u22120.338', 2305, 917, '#e01818'],
   ['7.741', 2467, 907, '#20a8e0'], ['1.361', 2556, 970, '#a07838'], ['7.897', 2302, 1038, '#20a8e0'], ['7.663', 2512, 1089, '#20a8e0']].forEach(s => {
    const t = mk('text', { x: s[1], y: s[2], 'font-size': 30, fill: s[3], 'text-anchor': 'middle' }, gt);
    t.textContent = s[0];
    
    
  });
  [['b', 2258, 1075], ['a', 2360, 1156]].forEach(s => {
    const t = mk('text', { x: s[1], y: s[2], 'font-size': 28, 'font-style': 'italic' }, gt);
    t.textContent = s[0];
    
    
  });
})();
</script>
</body></html>
